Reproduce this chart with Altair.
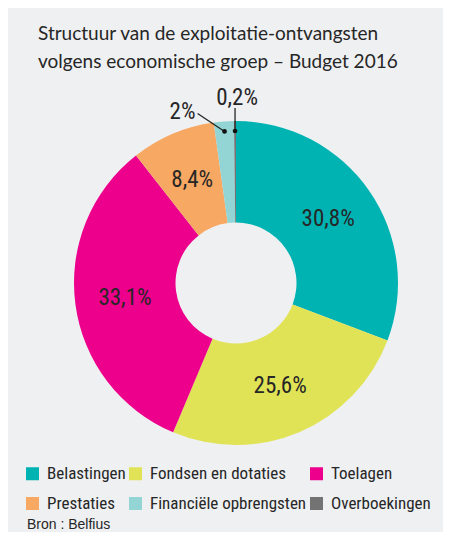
import math
import altair as alt
import pandas as pd

# ---------------- data ----------------
title_lines = [
    "Structuur van de exploitatie-ontvangsten",
    "volgens economische groep – Budget 2016",
]
categories = [
    "Belastingen",
    "Fondsen en dotaties",
    "Toelagen",
    "Prestaties",
    "Financiële opbrengsten",
    "Overboekingen",
]
shares = [30.8, 25.6, 33.1, 8.4, 2.0, 0.2]
share_labels = ["30,8%", "25,6%", "33,1%", "8,4%", "2%", "0,2%"]
colors = ["#00b3b3", "#e1e357", "#ec008c", "#f7a862", "#93d5d5", "#737373"]
source_note = "Bron : Belfius"

# ---------------- layout / style ----------------
W, H = 435, 483
CX, CY = 228, 234
R_OUT, R_IN = 162, 60.5
R_LABEL = 112
R_DOT = 152
BG = "#eff0f2"
TXT = "#262626"
NARROW = "Liberation Sans Narrow, Roboto Condensed, Roboto"
TITLE_FONT = "Lato"
# callout offsets (label dx, dy ; leader end dx, dy) relative to the dot
callouts = {
    "Financiële opbrengsten": (-42, -19, -27, -18),
    "Overboekingen": (2, -33, 0, -23),
}

df = pd.DataFrame({
    "idx": list(range(len(categories))),
    "category": categories,
    "share": shares,
    "label": share_labels,
})
df["biglabel"] = [l if c not in callouts else "" for c, l in zip(categories, share_labels)]

total = sum(shares)
rows = []
cum = 0.0
for c, v, l in zip(categories, shares, share_labels):
    mid = (cum + v / 2) / total * 2 * math.pi
    cum += v
    if c in callouts:
        dx, dy, lx, ly = callouts[c]
        xd = CX + R_DOT * math.sin(mid)
        yd = CY - R_DOT * math.cos(mid)
        rows.append({"category": c, "label": l, "xd": xd, "yd": yd,
                     "xl": xd + dx, "yl": yd + dy, "xe": xd + lx, "ye": yd + ly})
cdf = pd.DataFrame(rows)

base = alt.Chart(df)

arcs = base.mark_arc(innerRadius=R_IN, outerRadius=R_OUT).encode(
    theta=alt.Theta("share:Q", stack=True),
    order=alt.Order("idx:Q"),
    color=alt.Color(
        "category:N",
        scale=alt.Scale(domain=categories, range=colors),
        legend=alt.Legend(
            orient="none", legendX=16, legendY=416, columns=3, title=None,
            direction="horizontal",
            symbolType="square", symbolSize=169, symbolStrokeWidth=0,
            symbolOpacity=1, labelFont=NARROW, labelFontSize=17,
            labelColor=TXT, rowPadding=12, columnPadding=1, labelOffset=6,
            padding=0, labelLimit=300,
        ),
    ),
    x=alt.value(CX),
    y=alt.value(CY),
)

big_labels = base.mark_text(radius=R_LABEL, font=NARROW, fontSize=23, color=TXT).encode(
    theta=alt.Theta("share:Q", stack=True),
    order=alt.Order("idx:Q"),
    text="biglabel:N",
    x=alt.value(CX),
    y=alt.value(CY),
)

cbase = alt.Chart(cdf)
leaders = cbase.mark_rule(color=TXT, strokeWidth=1.3).encode(
    x=alt.X("xd:Q", scale=None, axis=None),
    y=alt.Y("yd:Q", scale=None, axis=None),
    x2="xe:Q",
    y2="ye:Q",
)
dots = cbase.mark_circle(color="#111111", size=22, opacity=1).encode(
    x=alt.X("xd:Q", scale=None, axis=None),
    y=alt.Y("yd:Q", scale=None, axis=None),
)
small_labels = cbase.mark_text(font=NARROW, fontSize=23, color=TXT).encode(
    x=alt.X("xl:Q", scale=None, axis=None),
    y=alt.Y("yl:Q", scale=None, axis=None),
    text="label:N",
)

note = alt.Chart(pd.DataFrame({"note": [source_note]})).mark_text(
    align="left", baseline="alphabetic", font="Liberation Sans", fontSize=14, color=TXT
).encode(text="note:N", x=alt.value(19), y=alt.value(480))

chart = alt.layer(arcs, big_labels, leaders, dots, small_labels, note).properties(
    width=W,
    height=H,
    background=BG,
    padding={"top": 41, "left": 0, "right": 0, "bottom": 0},
    autosize=alt.AutoSizeParams(type="none"),
    title=alt.TitleParams(
        text=title_lines, anchor="start", frame="group", dx=30, offset=-23,
        font=TITLE_FONT, fontSize=19, fontWeight="normal", color=TXT,
        lineHeight=28,
    ),
).configure_view(strokeWidth=0)

chart.save("out.html", embed_options={"renderer": "svg", "actions": False})
